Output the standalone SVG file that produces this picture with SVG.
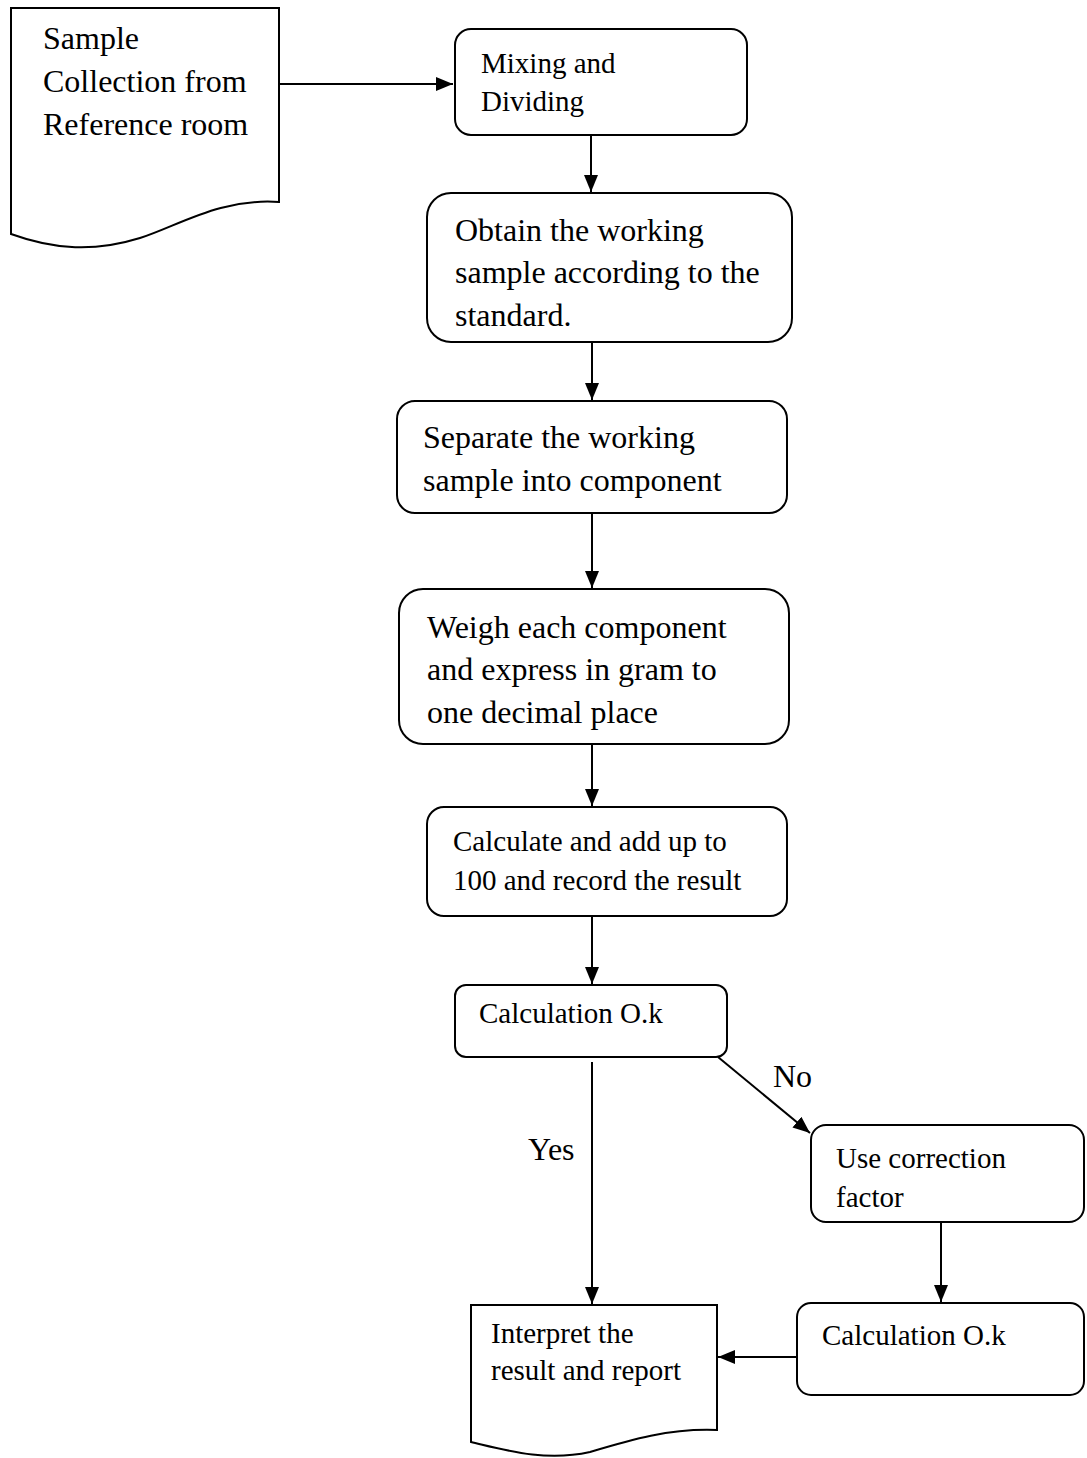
<svg xmlns="http://www.w3.org/2000/svg" width="1087" height="1458" viewBox="0 0 1087 1458">
<style>
.box{fill:#fff;stroke:#000;stroke-width:2}
.t{font-family:"Liberation Serif","Times New Roman",serif;fill:#000}
.l{font-size:32px}
.s{font-size:29px}
.c{stroke:#000;stroke-width:2;fill:none}
</style>
<defs>
<marker id="ah" markerUnits="userSpaceOnUse" markerWidth="18" markerHeight="16" viewBox="0 0 18 16" refX="17" refY="8" orient="auto">
<path d="M0,1 L17,8 L0,15 Z" fill="#000"/>
</marker>
</defs>
<rect width="1087" height="1458" fill="#fff"/>
<g id="connectors">
<line class="c" x1="279" y1="84" x2="453" y2="84" marker-end="url(#ah)"/>
<line class="c" x1="591" y1="135" x2="591" y2="192" marker-end="url(#ah)"/>
<line class="c" x1="592" y1="342" x2="592" y2="400" marker-end="url(#ah)"/>
<line class="c" x1="592" y1="513" x2="592" y2="588" marker-end="url(#ah)"/>
<line class="c" x1="592" y1="744" x2="592" y2="806" marker-end="url(#ah)"/>
<line class="c" x1="592" y1="916" x2="592" y2="984" marker-end="url(#ah)"/>
<line class="c" x1="592" y1="1062" x2="592" y2="1304" marker-end="url(#ah)"/>
<line class="c" x1="718" y1="1057" x2="810" y2="1133" marker-end="url(#ah)"/>
<line class="c" x1="941" y1="1222" x2="941" y2="1302" marker-end="url(#ah)"/>
<line class="c" x1="797" y1="1357" x2="718" y2="1357" marker-end="url(#ah)"/>
<text class="t l" x="528" y="1160">Yes</text>
<text class="t l" x="773" y="1087">No</text>
</g>
<g id="n1">
<path class="box" d="M11,8 H279 V202 C220,198 180,225 140,238 C95,252 55,250 11,234 Z"/>
<text class="t l" x="43" y="49">Sample</text>
<text class="t l" x="43" y="92">Collection from</text>
<text class="t l" x="43" y="135">Reference room</text>
</g>
<g id="n2">
<rect class="box" x="455" y="29" width="292" height="106" rx="16"/>
<text class="t s" x="481" y="73">Mixing and</text>
<text class="t s" x="481" y="111">Dividing</text>
</g>
<g id="n3">
<rect class="box" x="427" y="193" width="365" height="149" rx="24"/>
<text class="t l" x="455" y="241">Obtain the working</text>
<text class="t l" x="455" y="283">sample according to the</text>
<text class="t l" x="455" y="326">standard.</text>
</g>
<g id="n4">
<rect class="box" x="397" y="401" width="390" height="112" rx="18"/>
<text class="t l" x="423" y="448">Separate the working</text>
<text class="t l" x="423" y="491">sample into component</text>
</g>
<g id="n5">
<rect class="box" x="399" y="589" width="390" height="155" rx="24"/>
<text class="t l" x="427" y="638">Weigh each component</text>
<text class="t l" x="427" y="680">and express in gram to</text>
<text class="t l" x="427" y="723">one decimal place</text>
</g>
<g id="n6">
<rect class="box" x="427" y="807" width="360" height="109" rx="17"/>
<text class="t s" x="453" y="851">Calculate and add up to</text>
<text class="t s" x="453" y="890">100 and record the result</text>
</g>
<g id="n7">
<rect class="box" x="455" y="985" width="272" height="72" rx="11"/>
<text class="t s" x="479" y="1023">Calculation O.k</text>
</g>
<g id="n8">
<rect class="box" x="811" y="1125" width="273" height="97" rx="15"/>
<text class="t s" x="836" y="1168">Use correction</text>
<text class="t s" x="836" y="1207">factor</text>
</g>
<g id="n9">
<rect class="box" x="797" y="1303" width="287" height="92" rx="14"/>
<text class="t s" x="822" y="1345">Calculation O.k</text>
</g>
<g id="n10">
<path class="box" d="M471,1305 H717 V1430 C670,1428 630,1440 590,1452 C545,1462 505,1450 471,1442 Z"/>
<text class="t s" x="491" y="1343">Interpret the</text>
<text class="t s" x="491" y="1380">result and report</text>
</g>
</svg>
